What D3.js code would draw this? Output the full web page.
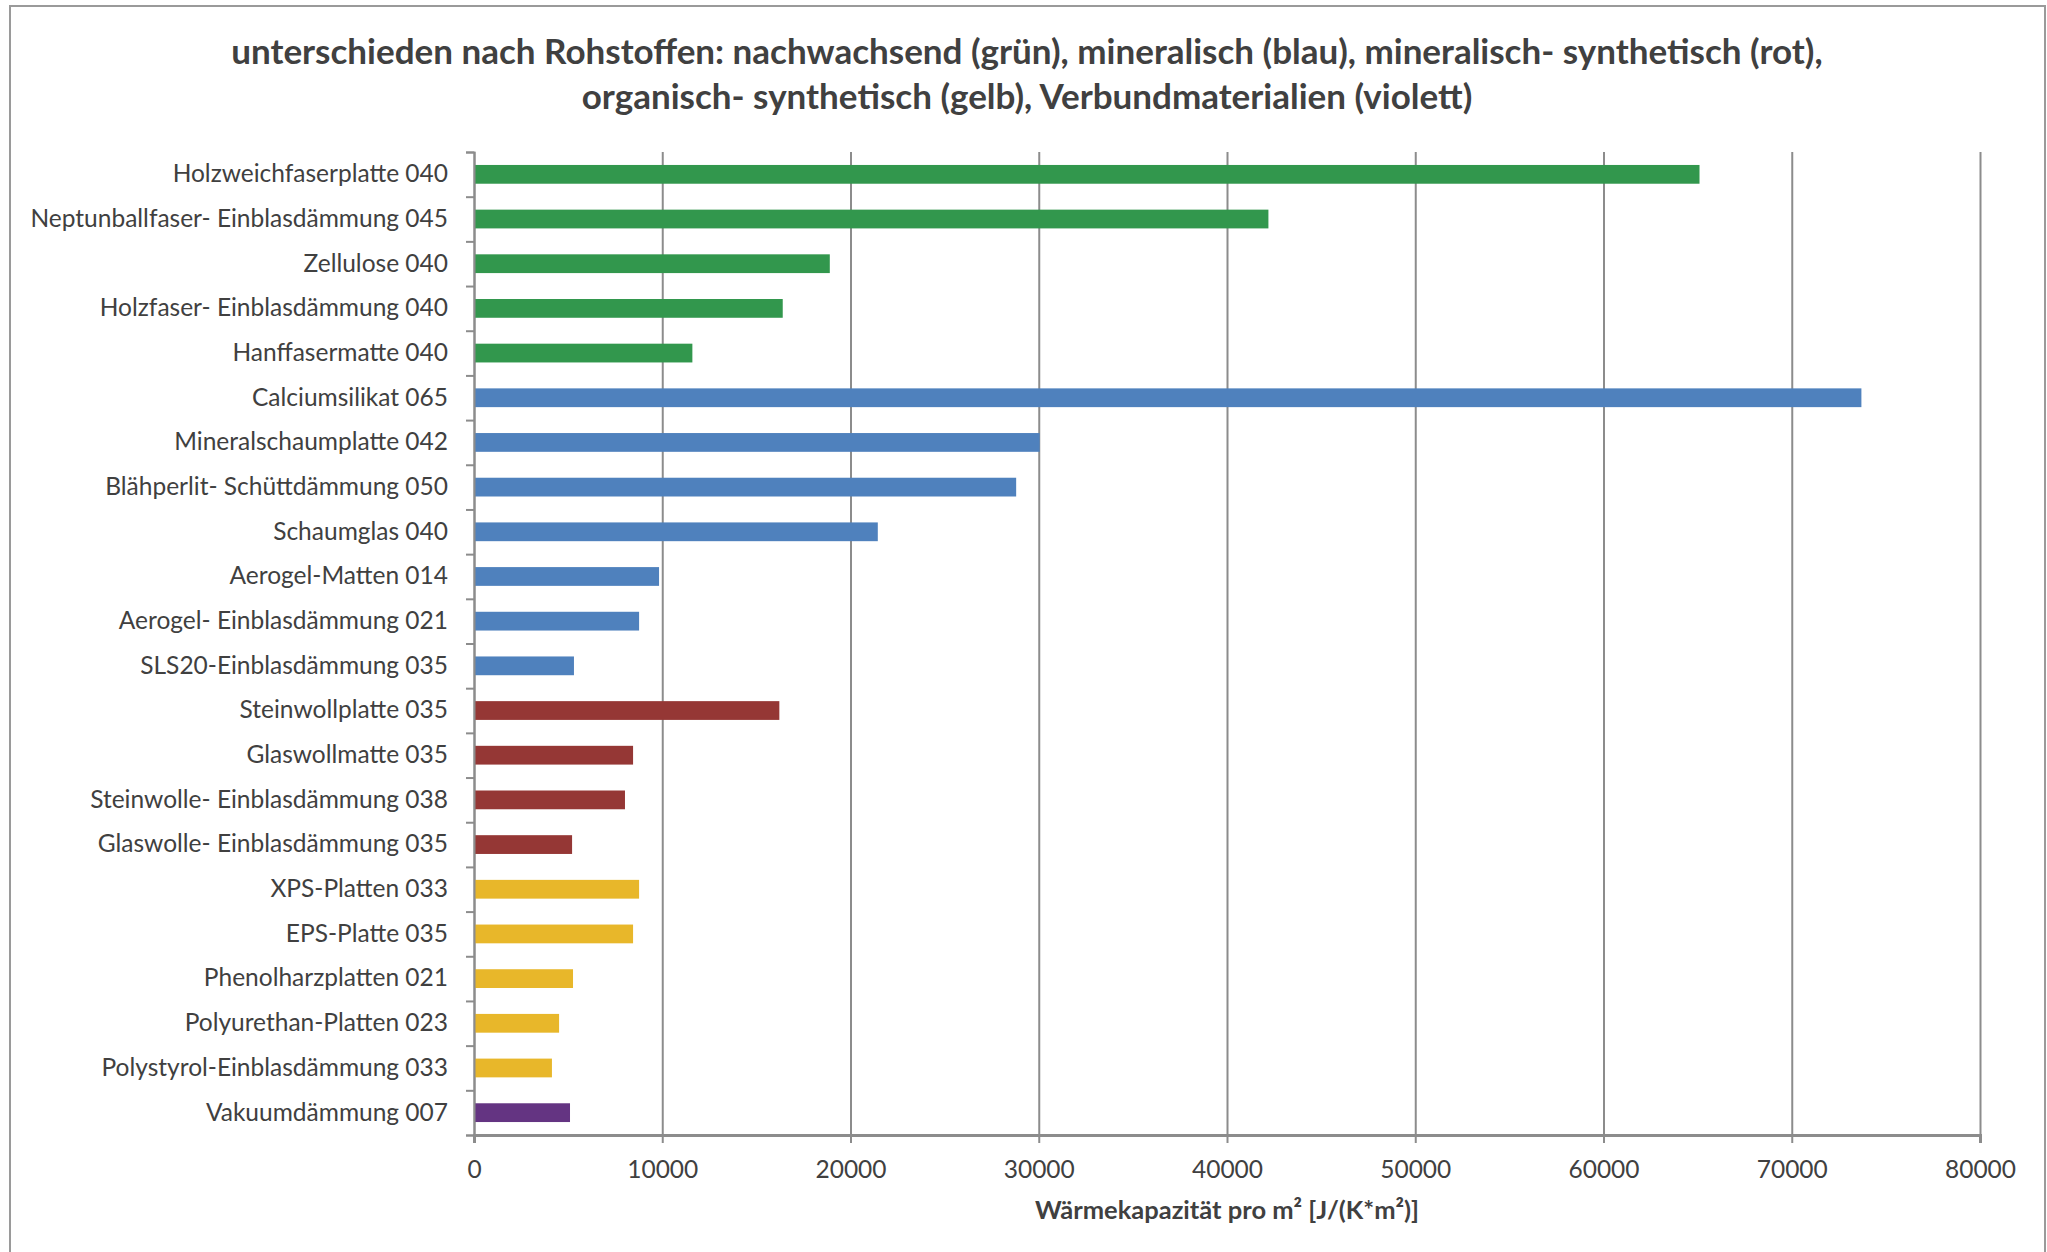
<!DOCTYPE html>
<html>
<head>
<meta charset="utf-8">
<script src="https://cdn.jsdelivr.net/npm/d3@7"></script>
<style>
  body { margin: 0; background: #fff; }
  text { font-family: Lato, "Open Sans", sans-serif; fill: #404040; }
</style>
</head>
<body>
<div id="vis"></div>
<script>
// materials, top to bottom
const categories = [
  "Holzweichfaserplatte 040",
  "Neptunballfaser- Einblasdämmung 045",
  "Zellulose 040",
  "Holzfaser- Einblasdämmung 040",
  "Hanffasermatte 040",
  "Calciumsilikat 065",
  "Mineralschaumplatte 042",
  "Blähperlit- Schüttdämmung 050",
  "Schaumglas 040",
  "Aerogel-Matten 014",
  "Aerogel- Einblasdämmung 021",
  "SLS20-Einblasdämmung 035",
  "Steinwollplatte 035",
  "Glaswollmatte 035",
  "Steinwolle- Einblasdämmung 038",
  "Glaswolle- Einblasdämmung 035",
  "XPS-Platten 033",
  "EPS-Platte 035",
  "Phenolharzplatten 021",
  "Polyurethan-Platten 023",
  "Polystyrol-Einblasdämmung 033",
  "Vakuumdämmung 007"
];

// Wärmekapazität pro m² [J/(K*m²)]
const values = [
  65100, 42200, 18900, 16400, 11600,
  73700, 30050, 28800, 21450, 9830, 8770, 5310,
  16220, 8450, 8020, 5210,
  8770, 8450, 5260, 4520, 4140,
  5100
];

// raw material group of each bar
const groups = [
  "nachwachsend", "nachwachsend", "nachwachsend", "nachwachsend", "nachwachsend",
  "mineralisch", "mineralisch", "mineralisch", "mineralisch", "mineralisch", "mineralisch", "mineralisch",
  "mineralisch-synthetisch", "mineralisch-synthetisch", "mineralisch-synthetisch", "mineralisch-synthetisch",
  "organisch-synthetisch", "organisch-synthetisch", "organisch-synthetisch", "organisch-synthetisch", "organisch-synthetisch",
  "Verbund"
];

const groupNames = ["nachwachsend", "mineralisch", "mineralisch-synthetisch", "organisch-synthetisch", "Verbund"];
const groupColors = ["#32974d", "#4f81bd", "#953735", "#e8b72a", "#643482"];

const xTicks = [0, 10000, 20000, 30000, 40000, 50000, 60000, 70000, 80000];

const titleLines = [
  "unterschieden nach Rohstoffen: nachwachsend (grün), mineralisch (blau), mineralisch- synthetisch (rot),",
  "organisch- synthetisch (gelb), Verbundmaterialien (violett)"
];
const xTitle = "Wärmekapazität pro m² [J/(K*m²)]";

const width = 2047, height = 1252;
const margin = { top: 152, right: 67, bottom: 117, left: 474 };
const innerW = width - margin.left - margin.right;
const innerH = height - margin.top - margin.bottom;

const svg = d3.select("#vis")
    .append("svg")
    .attr("width", width)
    .attr("height", height);

// chart border
svg.append("rect")
    .attr("x", 10).attr("y", 6)
    .attr("width", 2035).attr("height", 1300)
    .attr("fill", "#fff")
    .attr("stroke", "#9a9a9a")
    .attr("stroke-width", 2);

const x = d3.scaleLinear().domain([0, 80000]).range([0, innerW]);

const y = d3.scaleBand()
    .domain(categories)
    .range([0, innerH])
    .paddingInner(0.58)
    .paddingOuter(0.29);

const yIdx = d3.scaleLinear().domain([0, categories.length]).range([0, innerH]);

const color = d3.scaleOrdinal().domain(groupNames).range(groupColors);

const g = svg.append("g")
    .attr("transform", "translate(" + margin.left + "," + margin.top + ")");

// vertical gridlines
g.append("g")
    .attr("class", "grid")
    .attr("transform", "translate(0," + innerH + ")")
    .call(d3.axisBottom(x).tickValues(xTicks).tickSize(-innerH).tickFormat(""))
    .call(s => s.select(".domain").remove())
    .call(s => s.selectAll("line").attr("stroke", "#8c8c8c").attr("stroke-width", 2));

// bars
g.selectAll(".bar")
    .data(categories)
    .enter()
    .append("rect")
    .attr("class", "bar")
    .attr("x", x(0))
    .attr("y", (d) => y(d))
    .attr("width", (d, i) => x(values[i]) - x(0))
    .attr("height", y.bandwidth())
    .attr("fill", (d, i) => color(groups[i]));

// x axis
const xAxis = g.append("g")
    .attr("transform", "translate(0," + innerH + ")")
    .call(d3.axisBottom(x).tickValues(xTicks).tickFormat(d3.format("d")).tickSize(8).tickPadding(18));
xAxis.select(".domain").attr("stroke", "#8c8c8c").attr("stroke-width", 3);
xAxis.selectAll("line").attr("stroke", "#8c8c8c").attr("stroke-width", 2);
xAxis.selectAll("text").style("font-size", "24.5px").attr("fill", "#404040");

// y axis: tick marks between categories
const yAxis = g.append("g")
    .call(d3.axisLeft(yIdx).tickValues(d3.range(categories.length + 1)).tickSize(8).tickFormat(""));
yAxis.select(".domain").attr("stroke", "#8c8c8c").attr("stroke-width", 2);
yAxis.selectAll("line").attr("stroke", "#8c8c8c").attr("stroke-width", 2);

// category labels
const yLabels = g.append("g")
    .call(d3.axisLeft(y).tickSize(0).tickPadding(26));
yLabels.select(".domain").remove();
yLabels.selectAll("text").style("font-size", "24.5px").attr("fill", "#404040");

// title
svg.append("g").selectAll("text")
    .data(titleLines)
    .enter()
    .append("text")
    .attr("x", 1027)
    .attr("y", (d, i) => 64 + i * 45)
    .attr("text-anchor", "middle")
    .style("font-size", "35px")
    .style("font-weight", "bold")
    .text((d) => d);

// x axis title
svg.append("text")
    .attr("x", margin.left + innerW / 2)
    .attr("y", 1219)
    .attr("text-anchor", "middle")
    .style("font-size", "25.5px")
    .style("font-weight", "bold")
    .text(xTitle);
</script>
</body>
</html>
